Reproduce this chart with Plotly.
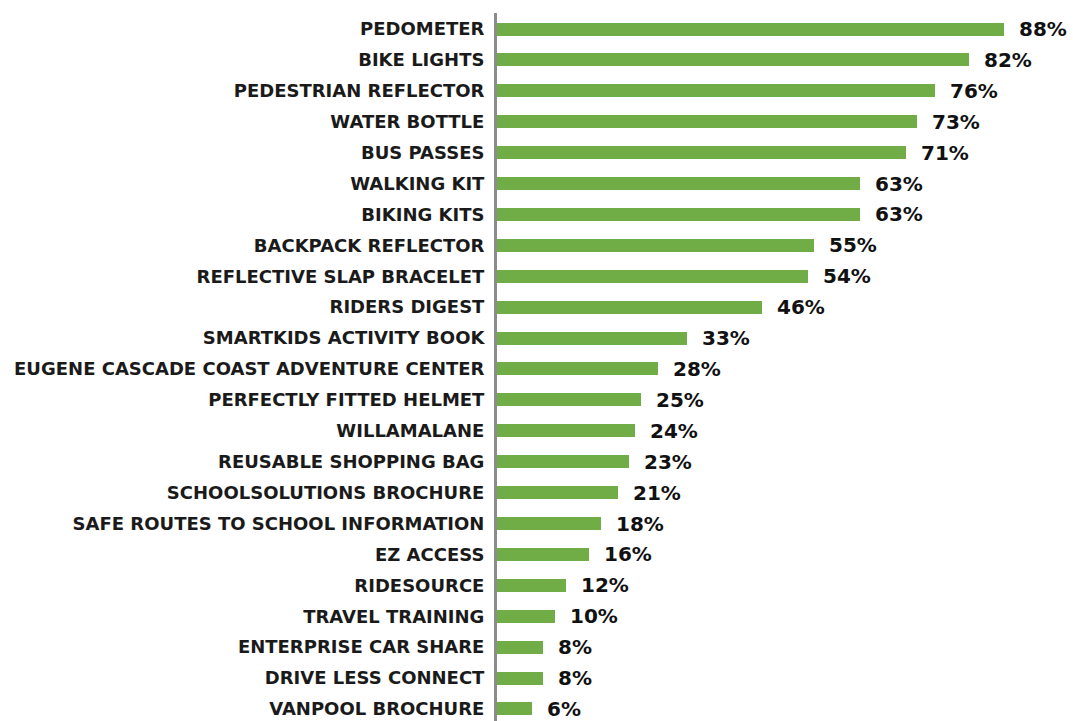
import plotly.graph_objects as go

categories = [
    "PEDOMETER", "BIKE LIGHTS", "PEDESTRIAN REFLECTOR", "WATER BOTTLE", "BUS PASSES",
    "WALKING KIT", "BIKING KITS", "BACKPACK REFLECTOR", "REFLECTIVE SLAP BRACELET",
    "RIDERS DIGEST", "SMARTKIDS ACTIVITY BOOK", "EUGENE CASCADE COAST ADVENTURE CENTER",
    "PERFECTLY FITTED HELMET", "WILLAMALANE", "REUSABLE SHOPPING BAG",
    "SCHOOLSOLUTIONS BROCHURE", "SAFE ROUTES TO SCHOOL INFORMATION", "EZ ACCESS",
    "RIDESOURCE", "TRAVEL TRAINING", "ENTERPRISE CAR SHARE", "DRIVE LESS CONNECT",
    "VANPOOL BROCHURE",
]
values = [88, 82, 76, 73, 71, 63, 63, 55, 54, 46, 33, 28, 25, 24, 23, 21, 18, 16, 12, 10, 8, 8, 6]

FONT = "DejaVu Sans"
BAR_COLOR = "#70AD47"

positions = list(range(len(categories)))

fig = go.Figure(
    go.Bar(
        x=values,
        y=positions,
        orientation="h",
        marker=dict(color=BAR_COLOR, line=dict(width=0)),
        width=0.42,
        hoverinfo="skip",
    )
)

for pos, v in zip(positions, values):
    fig.add_annotation(
        x=v, y=pos, text=f"<b>{v}%</b>", showarrow=False,
        xanchor="left", yanchor="middle", xshift=13,
        font=dict(family=FONT, size=20, color="#111111"),
    )

fig.update_layout(
    width=1073, height=721,
    margin=dict(l=497, r=0, t=13, b=0),
    plot_bgcolor="white", paper_bgcolor="white",
    showlegend=False,
    bargap=0,
)
fig.update_xaxes(range=[0, 100], visible=False, showgrid=False, zeroline=False)
fig.update_yaxes(
    tickmode="array", tickvals=positions,
    ticktext=[f"<b>{c}</b>" for c in categories],
    range=[22.39, -0.518],
    showgrid=False, zeroline=False,
    showline=True, linecolor="#8c8c8c", linewidth=3,
    ticks="", ticklabelstandoff=6,
    tickfont=dict(family=FONT, size=18, color="#1a1a1a"),
)

fig.write_html("out.html")
